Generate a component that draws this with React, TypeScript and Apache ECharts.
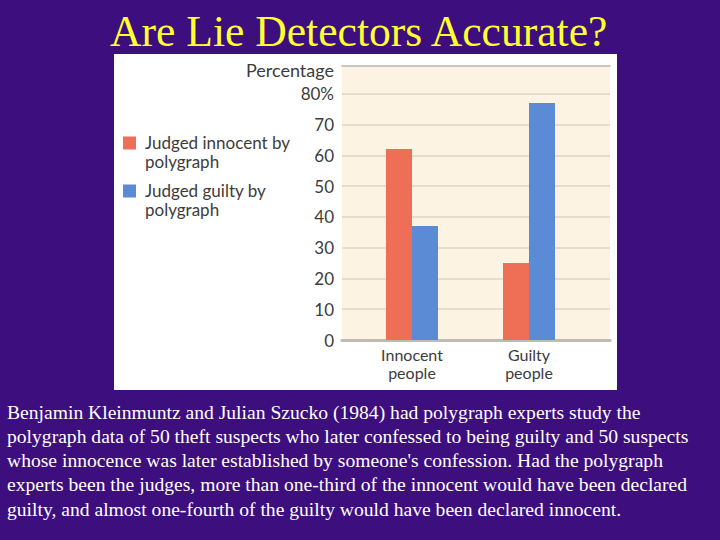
import React, { useEffect, useRef } from "react";
import * as echarts from "echarts";

const categories = ["Innocent\npeople", "Guilty\npeople"];
const seriesNames = ["Judged innocent by polygraph", "Judged guilty by polygraph"];
const legendLabels = ["Judged innocent by\npolygraph", "Judged guilty by\npolygraph"];
const judgedInnocent = [62, 25];
const judgedGuilty = [37, 77];
const yTicks = [0, 10, 20, 30, 40, 50, 60, 70, 80];
const titleText = "Are Lie Detectors Accurate?";
const bodyLines = [
  "Benjamin Kleinmuntz and Julian Szucko (1984) had polygraph experts study the",
  "polygraph data of 50 theft suspects who later confessed to being guilty and 50 suspects",
  "whose innocence was later established by someone's confession. Had the polygraph",
  "experts been the judges, more than one-third of the innocent would have been declared",
  "guilty, and almost one-fourth of the guilty would have been declared innocent.",
];

const SANS = "Lato";
const SERIF = "Liberation Serif";
const TITLE_SERIF = "'Times New Roman', 'Liberation Serif', serif";

export default function App() {
  const ref = useRef<HTMLDivElement>(null);
  useEffect(() => {
    if (!ref.current) return;
    const chart = echarts.init(ref.current, null, { renderer: "svg" });
    const top = 66;
    const height = 274;
    chart.setOption({
      animation: false,
      backgroundColor: "#3c0e7e",
      graphic: [
        { type: "rect", z: -10, shape: { x: 114, y: 54, width: 503, height: 336 }, style: { fill: "#ffffff" } },
        {
          type: "text", x: 110, y: 9,
          style: { text: titleText, fontFamily: TITLE_SERIF, fontSize: 43.6, fill: "#ffff33", align: "left", verticalAlign: "top" },
        },
        {
          type: "text", x: 7, y: 400,
          style: { text: bodyLines.join("\n"), fontFamily: SERIF, fontSize: 19.6, lineHeight: 24.25, fill: "#ffffff", align: "left", verticalAlign: "top" },
        },
      ],
      legend: {
        orient: "vertical",
        left: 123,
        top: 133.5,
        padding: 0,
        itemGap: 11,
        itemWidth: 13,
        itemHeight: 31,
        icon: "path://M0,0h13v13h-13zM0,31",
        data: seriesNames,
        formatter: (name: string) => legendLabels[seriesNames.indexOf(name)],
        textStyle: { fontFamily: SANS, fontSize: 17, lineHeight: 18.5, color: "#3c3c3c", padding: [0, 0, 0, 4] },
      },
      grid: [
        { left: 342, top, width: 268, height, show: true, backgroundColor: "#fdf3e2", borderWidth: 0 },
        { left: 353.5, top, width: 234, height },
      ],
      xAxis: [
        { gridIndex: 0, type: "value", position: "bottom", min: 0, max: 1, axisLine: { show: true, onZero: false, lineStyle: { color: "#bcbcb6", width: 3 } }, axisTick: { show: false }, axisLabel: { show: false }, splitLine: { show: false } },
        { gridIndex: 0, type: "value", position: "top", min: 0, max: 1, axisLine: { show: true, onZero: false, lineStyle: { color: "#c9c8c0", width: 2 } }, axisTick: { show: false }, axisLabel: { show: false }, splitLine: { show: false } },
        {
          gridIndex: 1, type: "category", data: categories,
          axisLine: { show: false }, axisTick: { show: false },
          axisLabel: { fontFamily: SANS, fontSize: 16, lineHeight: 18, color: "#3c3c3c", margin: 5 },
        },
      ],
      yAxis: [
        {
          gridIndex: 0, type: "value", min: 0, max: 89, interval: 10,
          name: "Percentage", nameLocation: "end", nameGap: -4,
          nameTextStyle: { fontFamily: SANS, fontSize: 18, color: "#3c3c3c", align: "right", verticalAlign: "middle", padding: [0, 8, 0, 0] },
          axisLine: { show: false }, axisTick: { show: false },
          axisLabel: {
            fontFamily: SANS, fontSize: 17, color: "#3c3c3c", margin: 8,
            formatter: (v: number) => (yTicks.indexOf(v) < 0 ? "" : v === 80 ? "80%" : String(v)),
          },
          splitLine: { show: true, lineStyle: { color: "#dcd4c6", width: 1.5 } },
        },
        { gridIndex: 1, type: "value", min: 0, max: 89, show: false, splitLine: { show: false } },
      ],
      series: [
        { name: seriesNames[0], type: "bar", xAxisIndex: 2, yAxisIndex: 1, data: judgedInnocent, barWidth: 26, barGap: "0%", itemStyle: { color: "#ee6f55" } },
        { name: seriesNames[1], type: "bar", xAxisIndex: 2, yAxisIndex: 1, data: judgedGuilty, barWidth: 26, barGap: "0%", itemStyle: { color: "#5b8bd4" } },
      ],
    });
    return () => chart.dispose();
  }, []);
  return <div ref={ref} style={{ position: "absolute", left: 0, top: 0, width: 720, height: 540 }} />;
}
